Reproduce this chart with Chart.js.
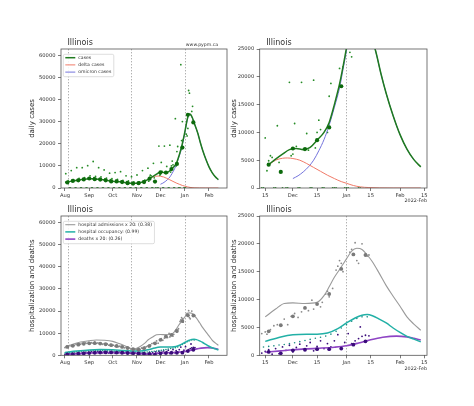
<!DOCTYPE html>
<html><head><meta charset="utf-8">
<script src="https://cdn.jsdelivr.net/npm/chart.js@4/dist/chart.umd.min.js"></script>
<style>
html,body{margin:0;padding:0;background:#fff;width:474px;height:406px;overflow:hidden;position:relative;}
canvas{position:absolute;}
</style></head><body>
<canvas id="c1" width="237" height="180" style="left:0;top:28px"></canvas>
<canvas id="c2" width="246" height="180" style="left:228px;top:28px"></canvas>
<canvas id="c3" width="237" height="180" style="left:0;top:196px"></canvas>
<canvas id="c4" width="246" height="180" style="left:228px;top:196px"></canvas>
<script>
// ---------- data (day index = days since 2021-08-01) ----------
const regionName = 'Illinois';
const siteNote = 'www.pypm.ca';
const yearNote = '2022-Feb';
const xMonthTicks = [0, 31, 61, 92, 122, 153, 184];
const xMonthLabels = ['Aug', 'Sep', 'Oct', 'Nov', 'Dec', 'Jan', 'Feb'];
const xZoomTicks = [106, 122, 136, 153, 167, 184, 198];
const xZoomLabels = ['15', 'Dec', '15', 'Jan', '15', 'Feb', '15'];
const yTicksFull = [0, 10000, 20000, 30000, 40000, 50000, 60000];
const yTicksZoom = [0, 5000, 10000, 15000, 20000, 25000];
const vlineDays = [4, 84, 153];
const zoomCaseModelStart = 108;   // first day of the case models shown in the zoomed panel
const zoomHospModelStart = 106;   // first day of the hospital models shown in the zoomed panel

const casesModelDays = [0,7,14,21,28,35,42,49,56,63,70,77,84,91,98,103,108,112,116,120,124,128,132,136,140,143,146,149,151,153,155,157,159,161,163,165,168,170,173,176,180,184,188,192,196];
const casesModel = [2500,3000,3400,3800,4100,4200,4000,3700,3300,3000,2800,2500,2200,2100,2600,3300,4200,5200,6100,6900,7100,6900,7300,8600,10000,11800,15000,18700,21800,25200,29000,32300,33500,33100,31600,29600,26600,24500,20500,17000,13000,9600,7000,5100,3800];
const deltaDays = [108,112,116,119,122,126,130,134,138,142,146,150,153,157,161,166,172,180,188,196];
const deltaModel = [4200,5000,5350,5400,5300,5000,4400,3700,3000,2300,1700,1150,850,450,200,80,20,0,0,0];
const omicronDays = [122,125,128,131,134,137,140,143,146,149,151,153,155,157,159,161,163,165,168,170,173,176,180,184,188,192,196];
const omicronModel = [1700,2200,2900,3800,5000,6700,8700,11300,14500,18000,21300,24700,28600,32000,33200,32900,31450,29500,26550,24480,20490,17000,13000,9600,7000,5100,3800];

const weekDays = [3,10,17,24,31,38,45,52,59,66,73,80,87,94,101,108,115,122,129,136,143,150,157,164];
const casesWeekly = [2500,3200,3500,3900,4300,4000,3800,3500,3000,3000,2700,2200,2000,2200,2700,4200,2900,7100,7000,8600,10900,18300,33200,29700];
const caseDotDays = [1,2,4,8,9,11,15,16,18,22,23,25,29,30,32,36,37,39,43,44,46,50,51,53,57,58,60,64,65,67,71,72,74,78,79,81,85,86,88,92,93,95,99,100,102,106,107,108,109,110,113,114,120,121,122,123,124,127,128,130,131,134,135,136,137,138,141,142,143,144,148,149,150,151,155,156,157,158,159,162,163];
const caseDotVals = [6500,2900,3300,7900,3400,3800,9200,3800,4400,9200,4200,4700,10100,4600,5500,12000,4700,5300,9200,4400,5000,8200,4100,4500,6700,3800,4200,7000,3400,3900,7400,3200,3500,5500,2900,3200,5100,2500,2800,5900,2400,2800,7900,3200,3600,9000,3100,4900,5800,5500,11200,4600,19000,5800,6100,11600,7500,19000,7000,9800,6800,19400,7200,10000,12200,10500,31400,10000,16500,18800,55900,21500,30100,21800,24400,23600,27000,44200,43000,34700,37000];
const caseZeroDays = [6,7,13,14,20,21,27,28,34,35,41,42,48,49,55,56,62,63,69,70,76,77,83,84,90,91,97,98,104,105,111,112,116,118,119,125,126,132,133,139,140,145,146,147,152,153,154,160,161];

const admModelDays = [0,10,20,31,40,50,61,70,80,88,95,102,106,112,117,122,129,136,140,143,146,149,153,156,159,162,165,168,172,176,180,184,188,192,196];
const admModel = [3800,5000,6000,6600,6900,6800,6300,5200,3800,2700,3800,5500,6900,8300,9300,9400,9300,9500,10700,12300,14000,15400,17300,18700,19200,19000,18000,16800,14700,12500,10600,8800,6900,5600,4500];
const occModelDays = [0,15,31,45,61,75,92,100,106,115,122,130,136,142,148,153,158,162,165,168,172,176,180,184,188,192,196];
const occModel = [1300,1900,2400,2600,2500,2200,1900,2100,2500,3300,3700,3800,3800,4000,4800,5800,6700,7200,7300,7100,6500,5800,4900,4100,3400,2900,2400];
const deathModelDays = [0,15,31,45,61,75,92,100,106,115,122,136,146,153,160,167,174,182,188,192,196];
const deathModel = [400,700,1000,1200,1250,1150,900,700,550,800,1000,1250,1450,1700,2200,2800,3250,3450,3300,3050,2750];

const admWeekly = [3800,4300,4800,5200,5400,5500,5300,5000,4600,4200,3800,3300,2800,2600,3200,4300,5400,7000,8500,9200,11000,15500,18100,18000];
const deathWeekly = [400,550,700,850,1000,1150,1250,1300,1300,1250,1150,1050,950,850,700,600,350,900,1000,1100,1100,1200,1900,2500];
const admDotDays = [0,2,4,6,8,10,12,14,16,18,20,22,24,26,28,30,32,34,36,38,40,42,44,46,48,50,52,54,56,58,60,62,64,66,68,70,72,74,76,78,80,82,84,86,88,90,92,94,96,98,100,102,104,106,107,109,111,113,115,117,119,121,123,125,127,129,131,133,134,136,138,139,141,142,143,145,147,148,149,150,151,155,156,158,159,160,162,164,165,166];
const admDotVals = [3500,4100,3900,4400,4200,4700,4500,5100,4800,5300,5000,5500,5200,5600,5400,5800,5300,5700,5500,5900,5400,5600,5200,5500,5000,5300,4800,5100,4600,4900,4400,4600,4100,4400,3900,4100,3700,3900,3400,3600,3100,3300,2900,3000,2600,2800,2500,2900,2700,3300,3100,3700,3900,4200,3800,4600,5300,5500,5200,6500,5500,7000,7500,6800,7800,8600,8000,9900,8300,9200,8700,9500,11000,11500,10500,12000,15300,16000,17000,16500,15000,18500,19000,20200,17000,16500,20000,18000,17800,18000];
const occDotDays = [0,3,6,9,12,15,18,21,24,27,30,33,36,39,42,45,48,51,54,57,60,63,66,69,72,75,78,81,84,87,90,93,96,99,102,105,108,111,114,117,120,123,126,129,132,135,138,141,144,147,150,153,156,159,162,165];
const occDotVals = [1000,1100,1200,1300,1450,1600,1700,1850,1950,2000,2050,2100,2150,2150,2150,2100,2100,2050,2000,1950,1900,1850,1800,1750,1650,1600,1550,1500,1450,1400,1400,1400,1400,1400,1450,1500,1600,1700,1850,1950,2100,2250,2450,2650,2850,3050,3250,3450,3800,4300,4900,5500,6100,6600,6900,6900];
const deathDotDays = [0,2,4,6,8,10,12,14,16,18,20,22,24,26,28,30,32,34,36,38,40,42,44,46,48,50,52,54,56,58,60,62,64,66,68,70,72,74,76,78,80,82,84,86,88,90,92,94,96,98,100,102,104,106,108,110,112,114,116,118,120,122,124,126,128,130,132,134,136,138,140,142,144,146,148,150,152,154,156,158,160,161,162,164,166];
const deathDotVals = [300,500,200,600,400,700,500,900,600,1000,800,1200,900,1300,1000,1400,1100,1600,1200,1500,1300,1700,1200,1500,1100,1600,1300,1400,1000,1500,1200,1300,900,1400,1100,1300,900,1200,1000,1300,800,1100,900,1200,700,1000,800,1100,600,900,500,800,400,700,1000,200,1200,300,1500,900,1800,600,1400,2000,1100,1700,2300,800,1600,2600,1200,2100,1500,2600,3700,1300,2300,3900,2100,2600,3000,5100,3400,3600,3500];

// ---------- helpers ----------
const FONT = '"DejaVu Sans", sans-serif';
Chart.defaults.font.family = FONT;
const P = (xs, ys, from) => xs.map((x, i) => ({x, y: ys[i]})).filter(p => from === undefined || p.x >= from);
const Z = (xs) => xs.map(x => ({x, y: 0}));

function lineDS(label, data, color, width, order, inLegend) {
  return {label, data, borderColor: color, backgroundColor: color, borderWidth: width, pointRadius: 0,
    cubicInterpolationMode: 'monotone', fill: false, order, inLegend};
}
function dotDS(label, data, color, r, order) {
  return {label, data, showLine: false, pointRadius: r, pointBackgroundColor: color, pointBorderWidth: 0,
    borderColor: color, backgroundColor: color, order};
}

function topDatasets(from) {
  return [
    lineDS('cases', P(casesModelDays, casesModel, from), '#1f7a1f', 1.5, 2, true),
    lineDS('delta cases', P(deltaDays, deltaModel, from), '#f07a68', 1.0, 3, true),
    lineDS('omicron cases', P(omicronDays, omicronModel, from), '#7474dc', 1.0, 4, true),
    dotDS('weekly cases', P(weekDays, casesWeekly), '#0c6a0c', 2.1, 1),
    dotDS('daily cases', P(caseDotDays, caseDotVals), '#268c26', 0.9, 5),
    dotDS('no report', Z(caseZeroDays), '#268c26', 0.9, 5)
  ];
}
function bottomDatasets(from) {
  return [
    lineDS('hospital admissions x 20: (0.38)', P(admModelDays, admModel, from), '#9a9a9a', 1.1, 3, true),
    lineDS('hospital occupancy: (0.99)', P(occModelDays, occModel, from), '#22b0a6', 1.5, 2, true),
    lineDS('deaths x 20: (0.26)', P(deathModelDays, deathModel, from), '#8e44c4', 1.6, 2, true),
    dotDS('admissions weekly', P(weekDays, admWeekly), '#7a7a7a', 1.9, 1),
    dotDS('deaths weekly', P(weekDays, deathWeekly), '#3a0c7a', 1.9, 1),
    dotDS('admissions daily', P(admDotDays, admDotVals), '#8a8a8a', 0.9, 5),
    dotDS('occupancy daily', P(occDotDays, occDotVals), '#1a8a80', 0.8, 5),
    dotDS('deaths daily', P(deathDotDays, deathDotVals), '#3a0c7a', 0.9, 5)
  ];
}

function decor(cfg) {
  return {
    id: 'decor',
    beforeDatasetsDraw(chart) {
      const {ctx, chartArea: a, scales: {x}} = chart;
      ctx.save();
      ctx.strokeStyle = '#a8a8a8'; ctx.lineWidth = 0.9; ctx.setLineDash([1.4, 1.6]);
      vlineDays.forEach(d => {
        if (d < x.min || d > x.max) return;
        const px = Math.round(x.getPixelForValue(d)) + 0.5;
        ctx.beginPath(); ctx.moveTo(px, a.top); ctx.lineTo(px, a.bottom); ctx.stroke();
      });
      ctx.restore();
    },
    afterDatasetsDraw(chart) {
      const {ctx, chartArea: a} = chart;
      ctx.save();
      ctx.strokeStyle = '#555'; ctx.lineWidth = 0.8;
      ctx.strokeRect(a.left, a.top, a.right - a.left, a.bottom - a.top);
      if (cfg.legend) {
        const items = chart.data.datasets.filter(d => d.inLegend);
        const fs = 4.6;
        ctx.font = fs + 'px ' + FONT;
        const tw = Math.max(...items.map(d => ctx.measureText(d.label).width));
        const bx = a.left + 2.3, by = a.top + 5.3, rowH = 7.2;
        const bw = 15 + tw + 2.5, bh = items.length * rowH + 0.8;
        ctx.beginPath();
        if (ctx.roundRect) ctx.roundRect(bx, by, bw, bh, 1.5); else ctx.rect(bx, by, bw, bh);
        ctx.fillStyle = 'rgba(255,255,255,0.85)'; ctx.fill();
        ctx.strokeStyle = '#d0d0d0'; ctx.lineWidth = 0.7; ctx.stroke();
        ctx.textBaseline = 'middle'; ctx.textAlign = 'left';
        items.forEach((d, i) => {
          const cy = by + 3.4 + i * rowH;
          ctx.strokeStyle = d.borderColor; ctx.lineWidth = Math.max(1, d.borderWidth);
          ctx.beginPath(); ctx.moveTo(bx + 2, cy); ctx.lineTo(bx + 12, cy); ctx.stroke();
          ctx.fillStyle = '#333'; ctx.fillText(d.label, bx + 15, cy);
        });
      }
      ctx.fillStyle = '#333'; ctx.textBaseline = 'middle'; ctx.textAlign = 'left';
      ctx.font = '8px ' + FONT;
      ctx.fillText(regionName, a.left + 6.5, a.top - 5.7);
      if (cfg.note) {
        ctx.font = '4.6px ' + FONT; ctx.textAlign = 'right';
        ctx.fillText(siteNote, a.right - 9, a.top - 4.7);
      }
      if (cfg.year) {
        ctx.font = '4.8px ' + FONT; ctx.textAlign = 'right';
        ctx.fillText(yearNote, a.right, a.bottom + 13);
      }
      ctx.restore();
    }
  };
}

function makeChart(id, opt) {
  const zoom = opt.zoom;
  const xt = zoom ? xZoomTicks : xMonthTicks;
  const xl = zoom ? xZoomLabels : xMonthLabels;
  const yt = zoom ? yTicksZoom : yTicksFull;
  return new Chart(document.getElementById(id), {
    type: 'line',
    data: {datasets: opt.datasets},
    options: {
      responsive: false, animation: false, devicePixelRatio: 1,
      layout: {padding: opt.padding},
      plugins: {legend: {display: false}, tooltip: {enabled: false}},
      events: [],
      scales: {
        x: {
          type: 'linear', min: zoom ? 102.8 : -5.1, max: zoom ? 199.6 : 207,
          afterBuildTicks: s => { s.ticks = xt.map(v => ({value: v})); },
          afterFit: s => { s.height = opt.xh; },
          ticks: {autoSkip: false, maxRotation: 0, minRotation: 0, padding: 1.5, color: '#333',
            font: {size: 5.2}, callback: (v, i) => xl[i]},
          grid: {drawOnChartArea: false, drawTicks: true, tickLength: 3, color: '#444', lineWidth: 0.7},
          border: {display: false}
        },
        y: {
          type: 'linear', min: 0, max: zoom ? 25000 : 63000,
          afterBuildTicks: s => { s.ticks = yt.map(v => ({value: v})); },
          afterFit: s => { s.width = opt.yw; },
          ticks: {padding: 2.5, color: '#333', font: {size: 5.2}, callback: v => String(v)},
          grid: {drawOnChartArea: false, drawTicks: true, tickLength: 3, color: '#444', lineWidth: 0.7},
          border: {display: false},
          title: {display: true, text: opt.ylabel, color: '#222', font: {size: 7}, padding: {top: opt.ytp, bottom: 0}}
        }
      }
    },
    plugins: [decor(opt)]
  });
}

makeChart('c1', {zoom: false, datasets: topDatasets(), padding: {top: 21, right: 10, left: 0, bottom: 0}, xh: 20, yw: 61, ytp: 27.8, ylabel: 'daily cases', legend: true, note: true});
makeChart('c2', {zoom: true, datasets: topDatasets(zoomCaseModelStart), padding: {top: 21, right: 47, left: 0, bottom: 0}, xh: 20, yw: 31.7, ytp: 1.8, ylabel: 'daily cases', year: true});
makeChart('c3', {zoom: false, datasets: bottomDatasets(), padding: {top: 20, right: 10, left: 0, bottom: 0}, xh: 20.7, yw: 61, ytp: 27.8, ylabel: 'hospitalization and deaths', legend: true});
makeChart('c4', {zoom: true, datasets: bottomDatasets(zoomHospModelStart), padding: {top: 20, right: 47, left: 0, bottom: 0}, xh: 20.7, yw: 31.7, ytp: 1.8, ylabel: 'hospitalization and deaths', year: true});
</script>
</body></html>
